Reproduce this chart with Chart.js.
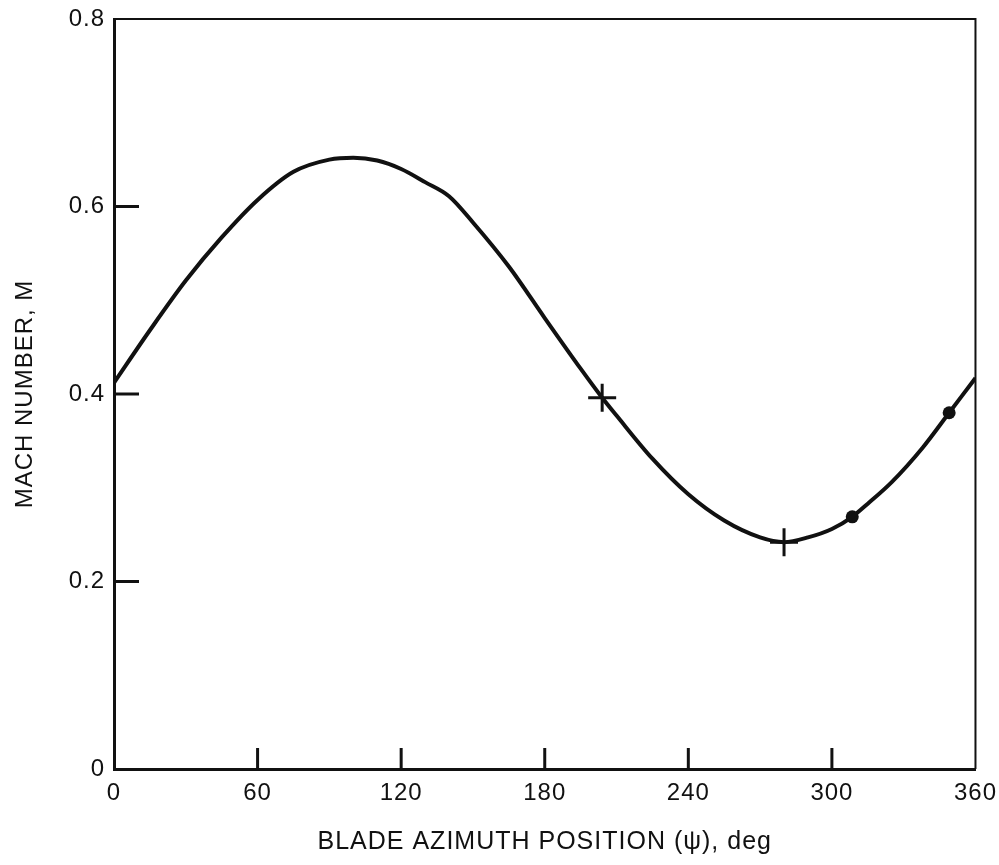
<!DOCTYPE html>
<html>
<head>
<meta charset="utf-8">
<script src="https://cdn.jsdelivr.net/npm/chart.js@4.4.1/dist/chart.umd.min.js"></script>
<style>
  html, body { margin: 0; padding: 0; background: #fff; }
  #wrap { width: 999px; height: 865px; position: relative; }
</style>
</head>
<body>
<div id="wrap"><canvas id="c" width="999" height="865"></canvas></div>
<script>
// Blade azimuth position (deg) and Mach number along the curve
const azimuth = [0, 15, 30, 45, 60, 75, 90, 100, 110, 120, 130, 140, 150, 165, 180, 195, 204, 210, 225, 240, 255, 270, 280, 290, 300, 308.5, 315, 325, 338, 349, 360];
const mach    = [0.412, 0.468, 0.521, 0.567, 0.607, 0.637, 0.650, 0.652, 0.649, 0.640, 0.626, 0.611, 0.583, 0.536, 0.481, 0.427, 0.396, 0.377, 0.331, 0.293, 0.265, 0.247, 0.242, 0.247, 0.256, 0.269, 0.283, 0.306, 0.343, 0.380, 0.417];

// Marked points
const plusAzimuth = [204, 280];
const plusMach    = [0.396, 0.242];
const dotAzimuth  = [308.5, 349];
const dotMach     = [0.269, 0.380];

// Axis ticks
const xTicks = [0, 60, 120, 180, 240, 300, 360];
const yTicks = [0, 0.2, 0.4, 0.6, 0.8];

const xTitle = 'BLADE AZIMUTH POSITION (\u03C8), deg';
const yTitle = 'MACH NUMBER, M';

const toXY = (xs, ys) => xs.map((x, i) => ({ x: x, y: ys[i] }));

const FONT = '"Liberation Sans", Arial, Helvetica, sans-serif';
const INK = '#111';

const spacing = {
  id: 'spacing',
  beforeUpdate(chart) { chart.ctx.letterSpacing = '1px'; },
  beforeLayout(chart) { chart.ctx.letterSpacing = '1px'; },
  beforeDraw(chart) { chart.ctx.letterSpacing = '1px'; }
};

const frame = {
  id: 'frame',
  afterDatasetsDraw(chart) {
    const ctx = chart.ctx;
    const a = chart.chartArea;
    const xs = chart.scales.x, ys = chart.scales.y;
    ctx.save();
    ctx.strokeStyle = INK;
    ctx.lineCap = 'butt';
    // top and right frame
    ctx.lineWidth = 2;
    ctx.beginPath();
    ctx.moveTo(a.left, a.top);
    ctx.lineTo(a.right, a.top);
    ctx.lineTo(a.right, a.bottom);
    ctx.stroke();
    // inward ticks
    ctx.lineWidth = 3;
    xTicks.slice(1, -1).forEach(v => {
      const px = xs.getPixelForValue(v);
      ctx.beginPath();
      ctx.moveTo(px, a.bottom);
      ctx.lineTo(px, a.bottom - 21);
      ctx.stroke();
    });
    yTicks.slice(1, -1).forEach(v => {
      const py = ys.getPixelForValue(v);
      ctx.beginPath();
      ctx.moveTo(a.left, py);
      ctx.lineTo(a.left + 25, py);
      ctx.stroke();
    });
    ctx.restore();
  }
};

new Chart(document.getElementById('c'), {
  type: 'scatter',
  data: {
    datasets: [
      {
        data: toXY(azimuth, mach),
        showLine: true,
        borderColor: INK,
        borderWidth: 4,
        pointRadius: 0,
        cubicInterpolationMode: 'monotone',
        fill: false
      },
      {
        data: toXY(plusAzimuth, plusMach),
        pointStyle: 'cross',
        pointRadius: 14,
        borderColor: INK,
        borderWidth: 3,
        showLine: false
      },
      {
        data: toXY(dotAzimuth, dotMach),
        pointStyle: 'circle',
        pointRadius: 6.5,
        backgroundColor: INK,
        borderColor: INK,
        borderWidth: 0,
        showLine: false
      }
    ]
  },
  options: {
    responsive: false,
    animation: false,
    devicePixelRatio: 1,
    layout: { padding: { top: 19, right: 19, left: 0, bottom: 0 } },
    plugins: { legend: { display: false }, tooltip: { enabled: false } },
    scales: {
      x: {
        type: 'linear',
        min: 0, max: 360,
        afterBuildTicks: s => { s.ticks = xTicks.map(v => ({ value: v })); },
        afterFit: s => { s.height = 96; },
        grid: { display: false },
        border: { display: true, color: INK, width: 3 },
        ticks: {
          color: INK,
          padding: 2,
          maxRotation: 0,
          autoSkip: false,
          font: { family: FONT, size: 24 },
          callback: v => String(v)
        },
        title: {
          display: true,
          text: xTitle,
          color: INK,
          font: { family: FONT, size: 25 },
          padding: { top: 0, bottom: 8 }
        }
      },
      y: {
        type: 'linear',
        min: 0, max: 0.8,
        afterBuildTicks: s => { s.ticks = yTicks.map(v => ({ value: v })); },
        afterFit: s => { s.width = 114; },
        grid: { display: false },
        border: { display: true, color: INK, width: 3 },
        ticks: {
          color: INK,
          padding: 1,
          autoSkip: false,
          font: { family: FONT, size: 24 },
          callback: v => (v === 0 ? '0' : v.toFixed(1))
        },
        title: {
          display: true,
          text: yTitle,
          color: INK,
          font: { family: FONT, size: 24 },
          padding: { top: 11, bottom: 0 }
        }
      }
    }
  },
  plugins: [spacing, frame]
});
</script>
</body>
</html>
